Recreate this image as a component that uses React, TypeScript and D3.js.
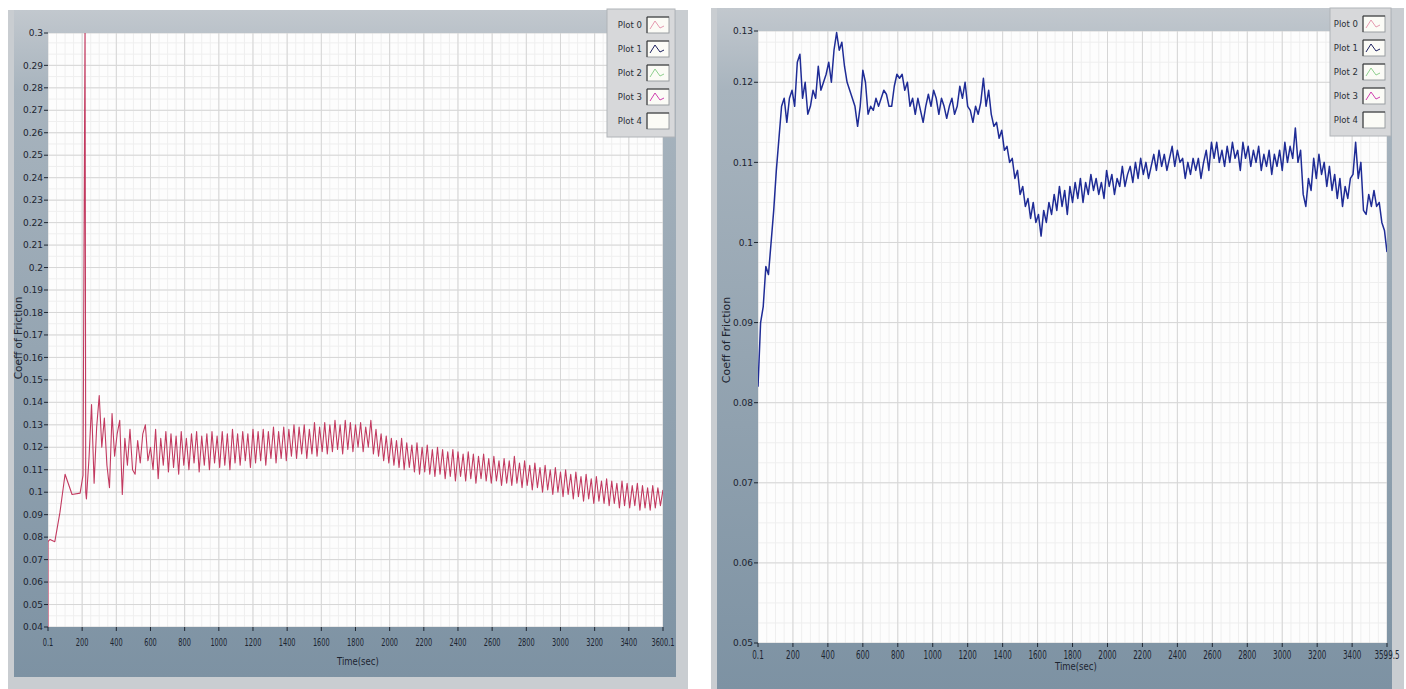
import React from "react";
import * as d3 from "d3";

// ---------------- DATA ----------------
// Left chart (Coeff of Friction vs Time) – early run-in points
const leftEarlyTime = [0.1, 0.1, 12, 40, 70, 100, 141, 188, 205, 217, 217, 221];
const leftEarlyCof = [0.04, 0.078, 0.079, 0.078, 0.091, 0.108, 0.099, 0.0996, 0.1075, 0.31, 0.31, 0.1];
// Left chart – sampled every 15 s from 225 s
const leftSampleStart = 225;
const leftSampleStep = 15;
const leftSampleCof = [
  0.097, 0.115, 0.139, 0.104, 0.129, 0.143, 0.120, 0.133, 0.112, 0.102,
  0.135, 0.116, 0.126, 0.132, 0.099, 0.124, 0.112, 0.128, 0.110, 0.108,
  0.123, 0.113, 0.126, 0.130, 0.114, 0.120, 0.110, 0.128, 0.106, 0.124,
  0.112, 0.127, 0.109, 0.126, 0.111, 0.125, 0.108, 0.127, 0.112, 0.124,
  0.110, 0.126, 0.113, 0.127, 0.109, 0.125, 0.112, 0.126, 0.110, 0.127,
  0.113, 0.125, 0.111, 0.127, 0.112, 0.126, 0.110, 0.128, 0.113, 0.126,
  0.112, 0.127, 0.114, 0.126, 0.111, 0.128, 0.113, 0.127, 0.114, 0.128,
  0.112, 0.127, 0.115, 0.129, 0.113, 0.127, 0.115, 0.129, 0.114, 0.128,
  0.116, 0.130, 0.115, 0.129, 0.117, 0.130, 0.115, 0.128, 0.117, 0.131,
  0.116, 0.129, 0.118, 0.131, 0.117, 0.130, 0.118, 0.132, 0.119, 0.130,
  0.117, 0.132, 0.119, 0.131, 0.118, 0.130, 0.120, 0.131, 0.118, 0.129,
  0.120, 0.132, 0.117, 0.128, 0.116, 0.126, 0.114, 0.125, 0.113, 0.124,
  0.112, 0.123, 0.111, 0.124, 0.110, 0.122, 0.111, 0.121, 0.109, 0.122,
  0.108, 0.120, 0.109, 0.121, 0.108, 0.119, 0.107, 0.120, 0.108, 0.119,
  0.106, 0.118, 0.107, 0.119, 0.105, 0.118, 0.107, 0.117, 0.105, 0.118,
  0.106, 0.117, 0.104, 0.116, 0.106, 0.117, 0.105, 0.115, 0.104, 0.116,
  0.105, 0.114, 0.103, 0.115, 0.104, 0.114, 0.103, 0.116, 0.104, 0.113,
  0.102, 0.114, 0.103, 0.112, 0.101, 0.113, 0.102, 0.111, 0.100, 0.112,
  0.101, 0.110, 0.099, 0.111, 0.100, 0.109, 0.098, 0.110, 0.099, 0.108,
  0.097, 0.109, 0.098, 0.107, 0.096, 0.108, 0.097, 0.106, 0.095, 0.107,
  0.096, 0.105, 0.095, 0.106, 0.094, 0.105, 0.095, 0.104, 0.093, 0.105,
  0.094, 0.104, 0.093, 0.103, 0.094, 0.104, 0.092, 0.103, 0.093, 0.102,
  0.092, 0.103, 0.093, 0.102, 0.094, 0.101,
];
const leftXTicks = [0.1, 200, 400, 600, 800, 1000, 1200, 1400, 1600, 1800, 2000, 2200, 2400, 2600, 2800, 3000, 3200, 3400, 3600.1];
const leftXTickLabels = ["0.1", "200", "400", "600", "800", "1000", "1200", "1400", "1600", "1800", "2000", "2200", "2400", "2600", "2800", "3000", "3200", "3400", "3600.1"];
const leftYTicks = [0.04, 0.05, 0.06, 0.07, 0.08, 0.09, 0.1, 0.11, 0.12, 0.13, 0.14, 0.15, 0.16, 0.17, 0.18, 0.19, 0.2, 0.21, 0.22, 0.23, 0.24, 0.25, 0.26, 0.27, 0.28, 0.29, 0.3044];
const leftYTickLabels = ["0.04", "0.05", "0.06", "0.07", "0.08", "0.09", "0.1", "0.11", "0.12", "0.13", "0.14", "0.15", "0.16", "0.17", "0.18", "0.19", "0.2", "0.21", "0.22", "0.23", "0.24", "0.25", "0.26", "0.27", "0.28", "0.29", "0.3"];

// Right chart – sampled every 15 s from 0 s
const rightSampleStep = 15;
const rightSampleCof = [
  0.082, 0.090, 0.092, 0.097, 0.096, 0.100, 0.104, 0.109, 0.113, 0.117,
  0.118, 0.115, 0.118, 0.119, 0.117, 0.1225, 0.1235, 0.118, 0.120, 0.116,
  0.117, 0.119, 0.118, 0.122, 0.119, 0.120, 0.121, 0.1225, 0.120, 0.124,
  0.1262, 0.124, 0.125, 0.122, 0.120, 0.119, 0.118, 0.117, 0.1145, 0.117,
  0.1215, 0.120, 0.116, 0.117, 0.1165, 0.118, 0.117, 0.118, 0.119, 0.1185,
  0.117, 0.117, 0.1195, 0.121, 0.1205, 0.121, 0.119, 0.120, 0.117, 0.118,
  0.116, 0.118, 0.1165, 0.115, 0.117, 0.1185, 0.117, 0.119, 0.118, 0.116,
  0.118, 0.117, 0.1155, 0.117, 0.118, 0.116, 0.117, 0.1195, 0.118, 0.120,
  0.117, 0.1165, 0.115, 0.117, 0.116, 0.1175, 0.1205, 0.117, 0.119, 0.116,
  0.1145, 0.115, 0.113, 0.114, 0.1115, 0.112, 0.110, 0.1105, 0.108, 0.109,
  0.106, 0.107, 0.1045, 0.1055, 0.103, 0.105, 0.1025, 0.1035, 0.1008, 0.104,
  0.1025, 0.105, 0.1035, 0.106, 0.104, 0.107, 0.1045, 0.1065, 0.1035, 0.107,
  0.105, 0.1075, 0.1055, 0.108, 0.105, 0.1075, 0.106, 0.1085, 0.1065, 0.108,
  0.106, 0.1075, 0.1055, 0.109, 0.107, 0.1085, 0.106, 0.108, 0.107, 0.1095,
  0.107, 0.1085, 0.1095, 0.1075, 0.110, 0.108, 0.1105, 0.1085, 0.110, 0.108,
  0.1095, 0.111, 0.109, 0.1115, 0.1095, 0.111, 0.109, 0.1105, 0.112, 0.1095,
  0.1115, 0.110, 0.1105, 0.108, 0.110, 0.1085, 0.1105, 0.109, 0.1105, 0.108,
  0.110, 0.1115, 0.109, 0.1125, 0.1105, 0.1125, 0.110, 0.1115, 0.1095, 0.112,
  0.110, 0.1125, 0.1105, 0.1115, 0.109, 0.1125, 0.1105, 0.112, 0.1095, 0.1115,
  0.110, 0.112, 0.109, 0.111, 0.1095, 0.1115, 0.1085, 0.111, 0.1095, 0.1115,
  0.109, 0.1125, 0.110, 0.112, 0.1105, 0.1143, 0.110, 0.1115, 0.106, 0.1045,
  0.108, 0.1065, 0.1105, 0.108, 0.111, 0.1085, 0.110, 0.107, 0.1095, 0.1065,
  0.1085, 0.1055, 0.108, 0.1045, 0.107, 0.1055, 0.108, 0.1085, 0.1125, 0.108,
  0.110, 0.104, 0.1035, 0.106, 0.1045, 0.1065, 0.1045, 0.105, 0.1025, 0.1015,
  0.0988,
];
const rightXTicks = [0.1, 200, 400, 600, 800, 1000, 1200, 1400, 1600, 1800, 2000, 2200, 2400, 2600, 2800, 3000, 3200, 3400, 3599.5];
const rightXTickLabels = ["0.1", "200", "400", "600", "800", "1000", "1200", "1400", "1600", "1800", "2000", "2200", "2400", "2600", "2800", "3000", "3200", "3400", "3599.5"];
const rightYTicks = [0.05, 0.06, 0.07, 0.08, 0.09, 0.1, 0.11, 0.12, 0.1264];
const rightYTickLabels = ["0.05", "0.06", "0.07", "0.08", "0.09", "0.1", "0.11", "0.12", "0.13"];

const legendNames = ["Plot 0", "Plot 1", "Plot 2", "Plot 3", "Plot 4"];
const legendColors = ["#e59ab0", "#1c2060", "#8fd08f", "#d040b0", "none"];
const axisTitleX = "Time(sec)";
const axisTitleY = "Coeff of Friction";

// ---------------- BUILD SERIES ----------------
const leftPoints: [number, number][] = [
  ...leftEarlyTime.map((t, i) => [t, leftEarlyCof[i]] as [number, number]),
  ...leftSampleCof.map((v, i) => [Math.min(3600.1, leftSampleStart + i * leftSampleStep), v] as [number, number]),
];
const rightPoints: [number, number][] = rightSampleCof.map(
  (v, i) => [Math.min(3599.5, Math.max(0.1, i * rightSampleStep)), v] as [number, number]
);

const FONT = "'DejaVu Sans','Liberation Sans',Arial,sans-serif";

type PanelProps = {
  id: string;
  frame: { x: number; y: number; w: number; h: number };
  plot: { x0: number; x1: number; y0: number; y1: number };
  xDomain: [number, number];
  yDomain: [number, number];
  xTicks: number[];
  xLabels: string[];
  yTicks: number[];
  yLabels: string[];
  xMinor: number;
  yMinor: number;
  points: [number, number][];
  color: string;
  lineWidth: number;
  legend: { x: number; y: number; w: number; h: number };
  xTitle: { x: number; y: number };
  yTitle: { x: number; y: number; size: number };
  xLabelOffset: number;
  xLabelSize: number;
  xLabelScale: number;
  bottomBand: boolean;
};

function Panel(p: PanelProps) {
  const { plot } = p;
  const x = d3.scaleLinear().domain(p.xDomain).range([plot.x0, plot.x1]);
  const y = d3.scaleLinear().domain(p.yDomain).range([plot.y1, plot.y0]);
  const line = d3
    .line<[number, number]>()
    .x((d) => x(d[0]))
    .y((d) => y(d[1]));
  const xMinorTicks = d3.range(0, p.xDomain[1], p.xMinor).filter((v) => v > p.xDomain[0]);
  const yMinorTicks = d3
    .range(p.yDomain[0], p.yDomain[1], p.yMinor)
    .filter((v) => v > p.yDomain[0] + 1e-9);
  const f = p.frame;
  const lg = p.legend;
  const rowH = (lg.h - 8) / 5;
  return (
    <g>
      <defs>
        <linearGradient id={p.id + "bg"} x1="0" y1="0" x2="0" y2="1">
          <stop offset="0" stopColor="#c2c8ce" />
          <stop offset="0.12" stopColor="#a8b4be" />
          <stop offset="1" stopColor="#7d92a3" />
        </linearGradient>
        <clipPath id={p.id + "clip"}>
          <rect x={plot.x0} y={plot.y0} width={plot.x1 - plot.x0} height={plot.y1 - plot.y0} />
        </clipPath>
      </defs>
      <rect x={f.x} y={f.y} width={f.w} height={f.h} fill="#c9cdd1" />
      <rect
        x={f.x + 6}
        y={f.y}
        width={f.w - 18}
        height={f.h - (p.bottomBand ? 12 : 0)}
        fill={`url(#${p.id}bg)`}
      />
      {/* plot area */}
      <rect x={plot.x0} y={plot.y0} width={plot.x1 - plot.x0} height={plot.y1 - plot.y0} fill="#fdfdfd" />
      <g clipPath={`url(#${p.id}clip)`}>
        {xMinorTicks.map((v, i) => (
          <line key={"xm" + i} x1={x(v)} x2={x(v)} y1={plot.y0} y2={plot.y1} stroke="#efefef" strokeWidth={1} />
        ))}
        {yMinorTicks.map((v, i) => (
          <line key={"ym" + i} x1={plot.x0} x2={plot.x1} y1={y(v)} y2={y(v)} stroke="#efefef" strokeWidth={1} />
        ))}
        {p.xTicks.map((v, i) => (
          <line key={"xg" + i} x1={x(v)} x2={x(v)} y1={plot.y0} y2={plot.y1} stroke="#d6d6d6" strokeWidth={1} />
        ))}
        {p.yTicks.map((v, i) => (
          <line key={"yg" + i} x1={plot.x0} x2={plot.x1} y1={y(v)} y2={y(v)} stroke="#d6d6d6" strokeWidth={1} />
        ))}
        <path d={line(p.points) || ""} fill="none" stroke={p.color} strokeWidth={p.lineWidth} strokeLinejoin="round" />
      </g>
      {/* y axis */}
      {p.yTicks.map((v, i) => (
        <g key={"yt" + i}>
          <line x1={plot.x0 - 4} x2={plot.x0} y1={y(v)} y2={y(v)} stroke="#1c2430" strokeWidth={1} />
          <text
            x={plot.x0 - 5}
            y={y(v)}
            dy="0.35em"
            textAnchor="end"
            fontSize={9}
            fontFamily={FONT}
            fill="#1c2430"
          >
            {p.yLabels[i]}
          </text>
        </g>
      ))}
      {/* x axis */}
      {p.xTicks.map((v, i) => (
        <g key={"xt" + i}>
          <line x1={x(v)} x2={x(v)} y1={plot.y1} y2={plot.y1 + 4} stroke="#1c2430" strokeWidth={1} />
          <text
            transform={`translate(${x(v)},${plot.y1 + p.xLabelOffset}) scale(${p.xLabelScale},1)`}
            textAnchor="middle"
            fontSize={p.xLabelSize}
            fontFamily={FONT}
            fill="#1c2430"
          >
            {p.xLabels[i]}
          </text>
        </g>
      ))}
      <text
        transform={`translate(${p.xTitle.x},${p.xTitle.y}) scale(0.85,1)`}
        fontSize={10}
        fontFamily={FONT}
        fill="#1c2430"
      >
        {axisTitleX}
      </text>
      <text
        transform={`translate(${p.yTitle.x},${p.yTitle.y}) rotate(-90)`}
        textAnchor="middle"
        fontSize={p.yTitle.size}
        fontFamily={FONT}
        fill="#1c2430"
      >
        {axisTitleY}
      </text>
      {/* legend */}
      <rect x={lg.x} y={lg.y} width={lg.w} height={lg.h} fill="#d7d8da" stroke="#b0b4b8" />
      {legendNames.map((name, i) => {
        const cy = lg.y + 4 + rowH * (i + 0.5);
        const sx = lg.x + lg.w - 28;
        const sw = 22;
        const sh = 16;
        return (
          <g key={"lg" + i}>
            <text x={sx - 5} y={cy} dy="0.35em" textAnchor="end" fontSize={8.5} fontFamily={FONT} fill="#2a2f36">
              {name}
            </text>
            <rect x={sx} y={cy - sh / 2} width={sw} height={sh} fill="#fbfbf6" stroke="#9a9ea2" />
            <line x1={sx} x2={sx + sw} y1={cy - sh / 2} y2={cy - sh / 2} stroke="#333" />
            <line x1={sx} x2={sx} y1={cy - sh / 2} y2={cy + sh / 2} stroke="#333" />
            {legendColors[i] !== "none" && (
              <polyline
                points={`${sx + 3},${cy + 4} ${sx + 8},${cy - 4} ${sx + 13},${cy + 3} ${sx + 17},${cy + 1}`}
                fill="none"
                stroke={legendColors[i]}
                strokeWidth={1}
              />
            )}
          </g>
        );
      })}
    </g>
  );
}

export default function App() {
  return (
    <svg
      width={1406}
      height={689}
      style={{ position: "absolute", left: 0, top: 0, background: "#ffffff" }}
      xmlns="http://www.w3.org/2000/svg"
    >
      <rect x={0} y={0} width={1406} height={689} fill="#ffffff" />
      <Panel
        id="L"
        frame={{ x: 8, y: 10, w: 680, h: 679 }}
        plot={{ x0: 48, x1: 663, y0: 33, y1: 627 }}
        xDomain={[0.1, 3600.1]}
        yDomain={[0.04, 0.3044]}
        xTicks={leftXTicks}
        xLabels={leftXTickLabels}
        yTicks={leftYTicks}
        yLabels={leftYTickLabels}
        xMinor={50}
        yMinor={0.005}
        points={leftPoints}
        color="#c23a60"
        lineWidth={1.1}
        legend={{ x: 607, y: 9, w: 68, h: 128 }}
        xTitle={{ x: 337, y: 665 }}
        yTitle={{ x: 22, y: 338, size: 10.5 }}
        xLabelOffset={19}
        xLabelSize={11}
        xLabelScale={0.6}
        bottomBand={true}
      />
      <Panel
        id="R"
        frame={{ x: 711, y: 8, w: 693, h: 681 }}
        plot={{ x0: 758, x1: 1387, y0: 31, y1: 643 }}
        xDomain={[0.1, 3599.5]}
        yDomain={[0.05, 0.1264]}
        xTicks={rightXTicks}
        xLabels={rightXTickLabels}
        yTicks={rightYTicks}
        yLabels={rightYTickLabels}
        xMinor={50}
        yMinor={0.0025}
        points={rightPoints}
        color="#1f2c96"
        lineWidth={1.5}
        legend={{ x: 1330, y: 8, w: 61, h: 128 }}
        xTitle={{ x: 1055, y: 670 }}
        yTitle={{ x: 730, y: 340, size: 11 }}
        xLabelOffset={16}
        xLabelSize={12}
        xLabelScale={0.6}
        bottomBand={false}
      />
    </svg>
  );
}
